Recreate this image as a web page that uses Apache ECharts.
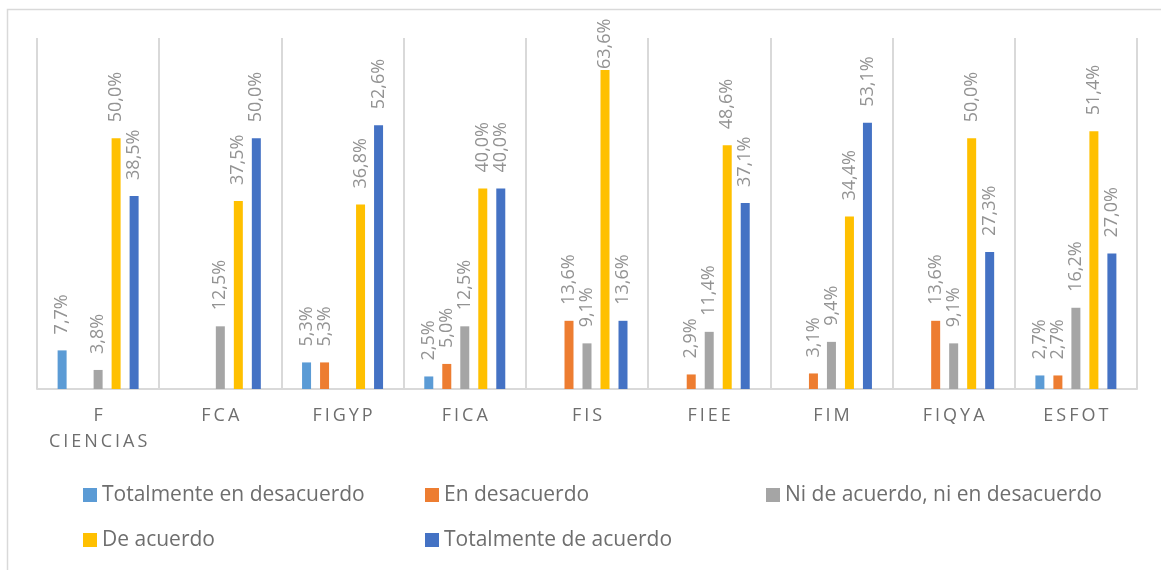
<!DOCTYPE html>
<html>
<head>
<meta charset="utf-8">
<script src="https://cdn.jsdelivr.net/npm/echarts@6/dist/echarts.min.js"></script>
<style>
  html, body { margin: 0; padding: 0; background: #ffffff; }
  #chart { width: 1161px; height: 570px; }
</style>
</head>
<body>
<div id="chart"></div>
<script>
// Faculties (categories along the x axis)
const categories = ['F CIENCIAS', 'FCA', 'FIGYP', 'FICA', 'FIS', 'FIEE', 'FIM', 'FIQYA', 'ESFOT'];

// Response shares in percent, one array per answer option (null = no responses)
const totalmenteDesacuerdo = [7.7, null, 5.3, 2.5, null, null, null, null, 2.7];
const enDesacuerdo         = [null, null, 5.3, 5.0, 13.6, 2.9, 3.1, 13.6, 2.7];
const niAcuerdoNiDesac     = [3.8, 12.5, null, 12.5, 9.1, 11.4, 9.4, 9.1, 16.2];
const deAcuerdo            = [50.0, 37.5, 36.8, 40.0, 63.6, 48.6, 34.4, 50.0, 51.4];
const totalmenteAcuerdo    = [38.5, 50.0, 52.6, 40.0, 13.6, 37.1, 53.1, 27.3, 27.0];

const seriesNames = [
  'Totalmente en desacuerdo',
  'En desacuerdo',
  'Ni de acuerdo, ni en desacuerdo',
  'De acuerdo',
  'Totalmente de acuerdo'
];
const seriesValues = [totalmenteDesacuerdo, enDesacuerdo, niAcuerdoNiDesac, deAcuerdo, totalmenteAcuerdo];
const seriesColors = ['#5B9BD5', '#ED7D31', '#A5A5A5', '#FFC000', '#4472C4'];

const FONT = 'Open Sans';

// Plot geometry used to keep value labels inside the chart frame
const GRID_TOP = 38, GRID_BOTTOM = 181, CHART_H = 570, Y_MAX = 70;
const LABEL_DIST = 16, LABEL_LEN = 52, LABEL_TOP_LIMIT = 17;
const PX_PER_UNIT = (CHART_H - GRID_BOTTOM - GRID_TOP) / Y_MAX;

function pct(v) {
  return v.toFixed(1).replace('.', ',') + '%';
}

// Spread the letters of an axis label and break multi-word names onto lines
function spaced(name) {
  return name.split(' ').map(w => w.split('').join('\u2009')).join('\n');
}

// Bar data items; a label that would run past the top edge sits closer to its bar
function toItems(values) {
  return values.map(v => {
    if (v == null) return null;
    const room = (CHART_H - GRID_BOTTOM - LABEL_TOP_LIMIT) - v * PX_PER_UNIT - LABEL_LEN;
    const d = Math.max(1, Math.min(LABEL_DIST, room));
    return d < LABEL_DIST ? { value: v, label: { distance: d } } : v;
  });
}

const chart = echarts.init(document.getElementById('chart'), null, { renderer: 'canvas' });

const legendText = { color: '#6E6E6E', fontSize: 21, fontFamily: FONT, lineHeight: 26 };
function legendCol(left, names) {
  return {
    orient: 'vertical',
    left: left,
    top: 482,
    padding: 0,
    itemGap: 19,
    itemWidth: 14,
    itemHeight: 14,
    icon: 'rect',
    textStyle: legendText,
    data: names
  };
}

chart.setOption({
  animation: false,
  backgroundColor: '#ffffff',
  textStyle: { fontFamily: FONT },
  graphic: [{
    type: 'rect',
    shape: { x: 7.5, y: 9.5, width: 1300, height: 700 },
    style: { fill: 'none', stroke: '#D9D9D9', lineWidth: 1.5 },
    silent: true
  }],
  grid: { left: 37, right: 24, top: GRID_TOP, bottom: GRID_BOTTOM, containLabel: false },
  legend: [
    legendCol(83, [seriesNames[0], seriesNames[3]]),
    legendCol(425, [seriesNames[1], seriesNames[4]]),
    legendCol(766, [seriesNames[2]])
  ],
  xAxis: {
    type: 'category',
    data: categories,
    boundaryGap: true,
    axisLine: { show: true, lineStyle: { color: '#D9D9D9', width: 2 } },
    axisTick: { show: false },
    splitLine: { show: true, lineStyle: { color: '#D9D9D9', width: 2 } },
    axisLabel: {
      interval: 0,
      margin: 14,
      color: '#6E6E6E',
      fontSize: 18,
      fontFamily: FONT,
      lineHeight: 26,
      formatter: spaced
    }
  },
  yAxis: {
    type: 'value',
    min: 0,
    max: Y_MAX,
    show: false,
    splitLine: { show: false }
  },
  series: seriesNames.map((name, i) => ({
    name: name,
    type: 'bar',
    data: toItems(seriesValues[i]),
    barWidth: 9,
    barGap: '100%',
    itemStyle: { color: seriesColors[i] },
    label: {
      show: true,
      position: 'top',
      rotate: 90,
      align: 'left',
      verticalAlign: 'middle',
      distance: LABEL_DIST,
      color: '#939393',
      fontSize: 18,
      fontFamily: FONT,
      formatter: p => (p.value == null ? '' : pct(p.value))
    }
  }))
});
</script>
</body>
</html>
